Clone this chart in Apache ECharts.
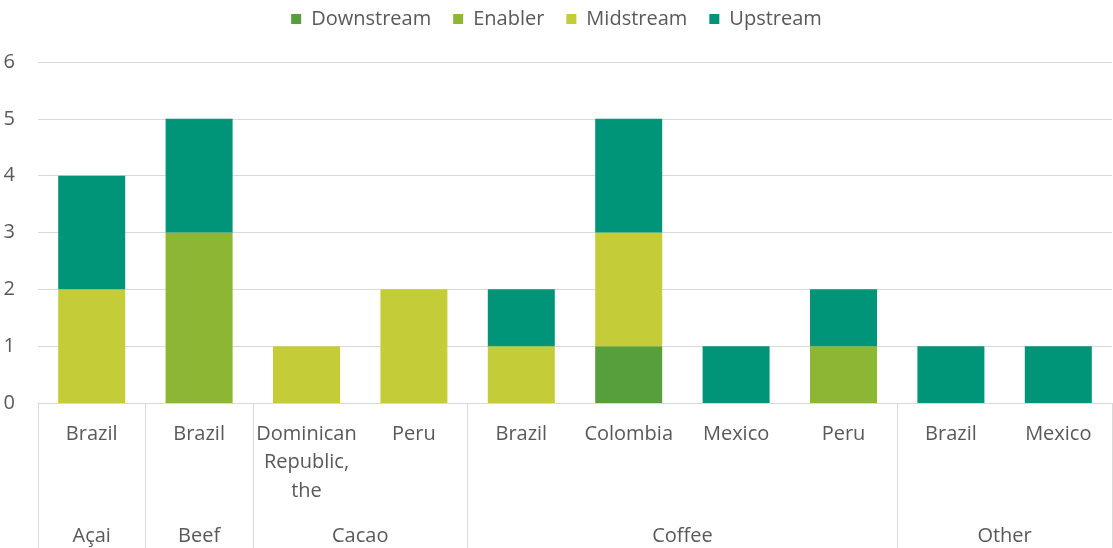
<!DOCTYPE html>
<html>
<head>
<meta charset="utf-8">
<script src="https://cdn.jsdelivr.net/npm/echarts@6/dist/echarts.min.js"></script>
<style>html,body{margin:0;padding:0;background:#fff}#c{width:1113px;height:548px}</style>
</head>
<body>
<div id="c"></div>
<script>
const categories = ['Brazil','Brazil','Dominican\nRepublic,\nthe','Peru','Brazil','Colombia','Mexico','Peru','Brazil','Mexico'];
const groups = ['Açai','Beef','Cacao','Coffee','Other'];
const groupSpans = [1,1,2,4,2];
const downstream = [0,0,0,0,0,1,0,0,0,0];
const enabler    = [0,3,0,0,0,0,0,1,0,0];
const midstream  = [2,0,1,2,1,2,0,0,0,0];
const upstream   = [2,2,0,0,1,2,1,1,1,1];
const yTicks = [0,1,2,3,4,5,6];

const boundaries = [0];
const centers = [];
groupSpans.forEach(s => { const b = boundaries[boundaries.length-1]; centers.push(b + s/2); boundaries.push(b + s); });

const font = 'Open Sans';
const txt = '#595959';
const fs = 20;
function ser(name, data, color){
  return {name, type:'bar', stack:'t', data: data.map(v => v === 0 ? null : v), itemStyle:{color}, barWidth:67, xAxisIndex:0};
}
const chart = echarts.init(document.getElementById('c'));
chart.setOption({
  animation:false,
  textStyle:{fontFamily:font},
  legend:{top:4, left:'center', itemWidth:10, itemHeight:10, itemGap:22,
    icon:'rect', textStyle:{fontFamily:font, fontSize:fs, color:txt, padding:[0,0,0,5]}},
  grid:{left:38, right:1, top:62, bottom:145, outerBoundsMode:'none', containLabel:false},
  xAxis:[{
    type:'category', data:categories,
    axisLine:{lineStyle:{color:'#d9d9d9'}},
    axisTick:{show:false},
    axisLabel:{fontFamily:font, fontSize:fs, color:txt, margin:17, lineHeight:28.5, interval:0}
  },{
    type:'value', position:'bottom', min:0, max:categories.length,
    splitLine:{show:false},
    axisLine:{show:false},
    axisTick:{show:true, length:145, customValues:boundaries, lineStyle:{color:'#d9d9d9'}},
    axisLabel:{show:true, customValues:centers, fontFamily:font, fontSize:fs, color:txt, margin:119, lineHeight:28,
      formatter: v => { const i = centers.indexOf(v); return i >= 0 ? groups[i] : ''; }}
  }],
  yAxis:{type:'value', min:yTicks[0], max:yTicks[yTicks.length-1], interval:1,
    axisLine:{show:false}, axisTick:{show:false},
    splitLine:{lineStyle:{color:'#d9d9d9'}},
    axisLabel:{fontFamily:font, fontSize:fs, color:txt, margin:23}},
  series:[
    ser('Downstream', downstream, '#579e3c'),
    ser('Enabler', enabler, '#8db635'),
    ser('Midstream', midstream, '#c4cc38'),
    ser('Upstream', upstream, '#009479')
  ]
});
</script>
</body>
</html>
